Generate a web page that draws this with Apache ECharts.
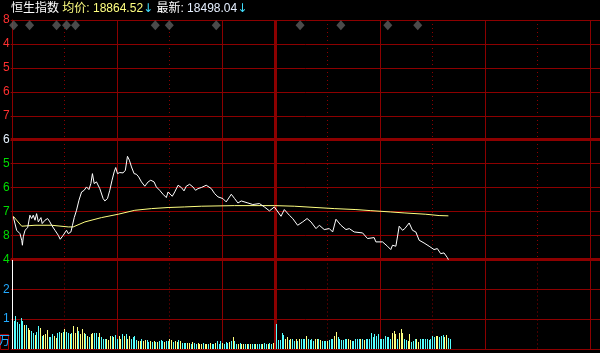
<!DOCTYPE html>
<html><head><meta charset="utf-8">
<script src="https://cdn.jsdelivr.net/npm/echarts@6/dist/echarts.min.js"></script>
<style>html,body{margin:0;padding:0;background:#000;overflow:hidden}#c{width:600px;height:353px}</style>
</head><body><div id="c"></div>
<script>
// ---------------- data ----------------
const indexName = '恒生指数';
const avgLabel = '均价';
const avgPrice = 18864.52;
const lastLabel = '最新';
const lastPrice = 18498.04;

const prevClose = 19500;
const priceStep = 200;
// visible (clipped) tick digits, bottom -> top
const priceTickDigits = ['4','8','7','6','5','6','7','6','5','4','8'];
const volTickDigits = ['', '1', '2', ''];
const volUnit = '万';

// minute index (0 = 9:30, 150 = 12:00/13:00, 330 = 16:00)
const priceMinutes = [0.5,2.4,3.4,4.3,5.3,5.7,6.2,7.2,8.7,10,11,11.9,12.9,13.8,14.8,16.3,17,18.6,20.1,21.4,22.4,24.3,26.2,27.3,29,30.9,31.9,33.4,34.3,35.3,36.6,38,39.5,41,42.3,43.7,44.8,45.7,46.7,48,49.9,51.8,52.8,54.3,55.6,56.9,58.1,59,60,61.3,63.2,64.5,65.7,66.8,68,69.5,70.8,72.1,73.7,75.6,77.5,79,80.9,82.2,84.1,86,87.9,88.9,89.8,91.3,92.7,94.6,96.5,98,99.3,101.2,103.1,104.6,106,107.9,110.7,113.6,115.5,117.4,120.2,122.1,125,126.9,128.8,130.7,134.5,137.3,141.1,143.9,146.8,149.6,153.4,155.3,158.2,160.1,162.9,165.8,168.3,170.5,173.4,175.3,178.1,181,182.9,184.8,187.6,190.5,192.4,195.2,200,202.8,206.6,207.6,211.4,214.2,216.1,217.1,219,219.9,220.9,222.8,224.1,226.6,228.5,230.4,232.3,235.1,238,240.8,242.7,244.6,246.5,248.4,249];
const priceValues = [18856,18744,18758,18716,18661,18619,18689,18744,18766,18870,18842,18870,18828,18883,18814,18850,18800,18828,18842,18814,18786,18744,18702,18669,18702,18744,18716,18730,18786,18850,18911,18995,19064,19078,19106,19084,19134,19217,19134,19148,19092,19009,18989,19009,19078,19162,19231,19268,19217,19226,19223,19245,19362,19329,19273,19217,19212,19190,19148,19112,19148,19162,19148,19106,19078,19045,19017,19064,19050,19028,19064,19120,19101,19073,19112,19128,19106,19078,19092,19101,19120,19092,19050,19023,19009,18981,19045,19009,18972,18989,18972,18959,18967,18939,18906,18939,18861,18917,18869,18842,18786,18814,18842,18814,18758,18786,18750,18758,18730,18836,18786,18750,18758,18730,18722,18675,18683,18647,18647,18611,18583,18619,18611,18688,18778,18744,18758,18805,18744,18730,18661,18638,18611,18583,18591,18549,18555,18516,18498];

const avgMinutes = [0.5,5.3,12.9,22.4,31.9,34.7,41.4,50.9,60.4,69.9,79.4,88.9,98.4,107.9,126.9,149.6,161,173.4,183.8,196.2,204.7,216.1,223.7,236.1,243.7,249];
const avgValues  = [18861,18778,18786,18786,18772,18772,18814,18850,18878,18911,18925,18934,18939,18945,18950,18950,18945,18934,18925,18917,18908,18897,18889,18878,18867,18864.52];

// opening auction volume (minute 0), in 万 units
const openVolume = 3.5;
// morning minutes 1..149
const volAM = [
0.94,1.09,0.89,0.84,1.03,0.94,0.81,0.81,0.69,0.64,
0.61,0.55,0.47,0.58,0.77,0.69,0.44,0.47,0.5,0.64,
0.4,0.4,0.49,0.45,0.375,0.52,0.57,0.55,0.58,0.66,
0.56,0.52,0.5,0.52,0.77,0.55,0.75,0.6,0.49,0.66,
0.52,0.49,0.43,0.41,0.5,0.52,0.52,0.52,0.41,0.52,
0.39,0.35,0.32,0.35,0.3,0.45,0.43,0.39,0.47,0.32,
0.43,0.35,0.49,0.44,0.5,0.32,0.43,0.35,0.41,0.43,
0.3,0.27,0.27,0.32,0.27,0.3,0.3,0.25,0.27,0.24,
0.27,0.25,0.24,0.27,0.3,0.26,0.24,0.27,0.27,0.32,
0.3,0.24,0.27,0.24,0.3,0.27,0.2,0.2,0.2,0.2,
0.2,0.18,0.24,0.2,0.18,0.2,0.18,0.18,0.2,0.16,
0.18,0.16,0.2,0.18,0.16,0.2,0.27,0.18,0.27,0.2,
0.18,0.24,0.2,0.24,0.27,0.39,0.27,0.18,0.18,0.2,
0.18,0.16,0.16,0.18,0.16,0.16,0.18,0.16,0.16,0.18,
0.16,0.18,0.16,0.2,0.18,0.18,0.2,0.18,0.2];
const dirAM = 'dddddduduu'+'ddudduduuu'+'ddduuddudu'+'dduduuuduu'+'ududuudddu'+'ddduuududd'+'uududuuddd'+'duuduuddud'+'ududdduddu'+'uduududddu'+'ududduuudu'+'ududdudddu'+'dddududdud'+'uudududdud'+'ddudduddu';
// afternoon minutes from 151
const volPM = [
0.84,0.3,0.3,0.52,0.47,0.32,0.41,0.3,0.35,0.32,0.27,0.35,0.27,0.35,0.32,
0.32,0.32,0.43,0.32,0.3,0.35,0.27,0.32,0.35,0.32,
0.3,0.27,0.26,0.27,0.27,0.3,0.32,0.32,0.43,0.57,
0.39,0.32,0.3,0.3,0.32,0.35,0.32,0.3,0.27,0.27,
0.32,0.35,0.35,0.32,0.32,0.3,0.35,0.35,0.35,0.52,
0.39,0.49,0.43,0.5,0.35,0.32,0.34,0.43,0.39,0.41,
0.35,0.52,0.6,0.49,0.35,0.55,0.67,0.52,0.35,0.3,
0.26,0.5,0.24,0.27,0.32,0.34,0.24,0.32,0.32,0.35,
0.32,0.34,0.3,0.35,0.43,0.41,0.43,0.45,0.39,0.43,
0.48,0.41,0.47,0.375,0.35];
const dirPM = 'ddddduududdudud'+'ddudddduud'+'uddduddduu'+'dddddduudd'+'dddududddd'+'dddddddddd'+'duuuduuudd'+'uuddduuddd'+'dddddduudd'+'duudd';

// news markers (minute index)
const newsMinutes = [0.7,9.8,25.2,30.9,36,81.6,89.6,116.4,164.3,187.6,214.4,231.5];

// time grid (minutes) and line kinds: 0 solid, 1 dotted, 2 thick (midday)
const timeGridMinutes = [30,60,90,120,150,180,210,240,270,300,330];
const timeGridKinds   = [1,0,1,0,2,1,0,1,0,1,0];

// ---------------- chart ----------------
const RED = '#8c0000';
const UP = '#ffff80', DOWN = '#55ffff', OPEN = '#ffffff';
const xMin = -1, xMax = 335.6;
const yMinP = prevClose-5*priceStep, yMaxP = prevClose+5*priceStep;
const volMax = 3;
const chart = echarts.init(document.getElementById('c'), null, {renderer:'canvas'});

const pricePts = priceMinutes.map((m,i)=>[m, priceValues[i]]);
const avgPts = avgMinutes.map((m,i)=>[m, avgValues[i]]);
// [minute, volume, colorCode]  colorCode: 0 down, 1 up, 2 open
const volData = [[0, openVolume, 2]];
volAM.forEach((v,i)=>volData.push([1+i, v, dirAM[i]==='u'?1:0]));
volPM.forEach((v,i)=>volData.push([151+i, v, dirPM[i]==='u'?1:0]));
const volColors = [DOWN, UP, OPEN];

function vLineRender(params, api){
  const cs = params.coordSys;
  const k = timeGridKinds[params.dataIndex];
  const x = Math.floor(api.coord([api.value(0), api.value(1)])[0]) + 0.5;
  return {type:'line', silent:true,
    shape:{x1:x, y1:cs.y, x2:x, y2:cs.y+cs.height},
    style:{stroke:RED, lineWidth:k===2?3:1, lineDash:k===1?[1,3]:null}};
}
function hLineRender(params, api){
  const cs = params.coordSys;
  const y = Math.floor(api.coord([0, api.value(1)])[1]) + 0.5;
  return {type:'line', silent:true,
    shape:{x1:cs.x, y1:y, x2:cs.x+cs.width, y2:y},
    style:{stroke:RED, lineWidth:3}};
}
function barRender(params, api){
  const m = api.value(0), v = Math.min(api.value(1), volMax);
  const top = api.coord([m, v]);
  const base = api.coord([m, 0]);
  const x = Math.floor(top[0]);
  const y0 = Math.round(top[1]);
  const y1 = Math.round(base[1]);
  return {type:'rect', silent:true,
    shape:{x:x, y:y0, width:1, height:Math.max(0, y1-y0)},
    style:{fill: volColors[api.value(2)]}};
}
const priceLabelColor = i => i<5 ? '#00dd00' : (i===5 ? '#e6f2ff' : '#ff3030');
const markerLevel = prevClose + priceStep*4.78;

chart.setOption({
  backgroundColor:'#000',
  animation:false,
  grid:[
    {left:9, right:0, top:20, height:239.5},
    {left:9, right:0, top:259.5, height:89.5}
  ],
  xAxis:[
    {type:'value', gridIndex:0, min:xMin, max:xMax, show:false},
    {type:'value', gridIndex:1, min:xMin, max:xMax, show:false}
  ],
  yAxis:[
    {type:'value', gridIndex:0, min:yMinP, max:yMaxP, interval:priceStep,
     axisLine:{show:true, lineStyle:{color:RED,width:1}}, axisTick:{show:false},
     splitLine:{show:true, lineStyle:{color:RED,width:1}},
     axisLabel:{margin:1, fontSize:12, fontFamily:'Liberation Sans',
       formatter:(v)=>priceTickDigits[Math.round((v-yMinP)/priceStep)],
       color:(v)=>priceLabelColor(Math.round((v-yMinP)/priceStep))}},
    {type:'value', gridIndex:1, min:0, max:volMax, interval:1,
     axisLine:{show:true, lineStyle:{color:RED,width:1}}, axisTick:{show:false},
     splitLine:{show:true, lineStyle:{color:RED,width:1}},
     axisLabel:{margin:1, fontSize:12, fontFamily:'Liberation Sans', color:'#22aaff',
       formatter:(v)=>volTickDigits[Math.round(v)]}}
  ],
  series:[
    {type:'custom', xAxisIndex:0, yAxisIndex:0, renderItem:vLineRender, z:1,
     data:timeGridMinutes.map(m=>[m, prevClose])},
    {type:'custom', xAxisIndex:1, yAxisIndex:1, renderItem:vLineRender, z:1,
     data:timeGridMinutes.map(m=>[m, 0])},
    {type:'custom', xAxisIndex:0, yAxisIndex:0, renderItem:hLineRender, z:2,
     data:[[0, prevClose],[0, yMinP]]},
    {type:'line', xAxisIndex:0, yAxisIndex:0, data:avgPts, symbol:'none',
     lineStyle:{color:'#ffff80', width:1}, z:4},
    {type:'line', xAxisIndex:0, yAxisIndex:0, data:pricePts, symbol:'none',
     lineStyle:{color:'#ffffff', width:1}, z:5},
    {type:'scatter', xAxisIndex:0, yAxisIndex:0, data:newsMinutes.map(m=>[m, markerLevel]),
     symbol:'diamond', symbolSize:[9,10], itemStyle:{color:'#5c5c5c'}, z:6},
    {type:'custom', xAxisIndex:1, yAxisIndex:1, renderItem:barRender, z:3, data:volData}
  ],
  graphic:[
    {type:'text', left:11, top:3, z:10, style:{
      text:'{a|'+indexName+'} {b|'+avgLabel+': '+avgPrice.toFixed(2)+'}{c|↓} {a|'+lastLabel+': }{d|'+lastPrice.toFixed(2)+'}{c|↓}',
      rich:{
        a:{fill:'#ffffff', fontSize:12, fontFamily:'Liberation Sans, Noto Sans CJK SC'},
        b:{fill:'#ffff80', fontSize:12, fontFamily:'Liberation Sans, Noto Sans CJK SC'},
        c:{fill:'#40e0ff', fontSize:12, fontFamily:'DejaVu Sans'},
        d:{fill:'#e6f0ff', fontSize:12, fontFamily:'Liberation Sans'}
      }}},
    {type:'rect', left:0, top:334, z:10, shape:{width:8, height:15}, style:{fill:'#000', stroke:'#a00000', lineWidth:1}},
    {type:'text', left:-2, top:334, z:11, style:{text:volUnit, fill:'#22aaff', fontSize:12, fontFamily:'Noto Sans CJK SC'}}
  ]
});
</script></body></html>
